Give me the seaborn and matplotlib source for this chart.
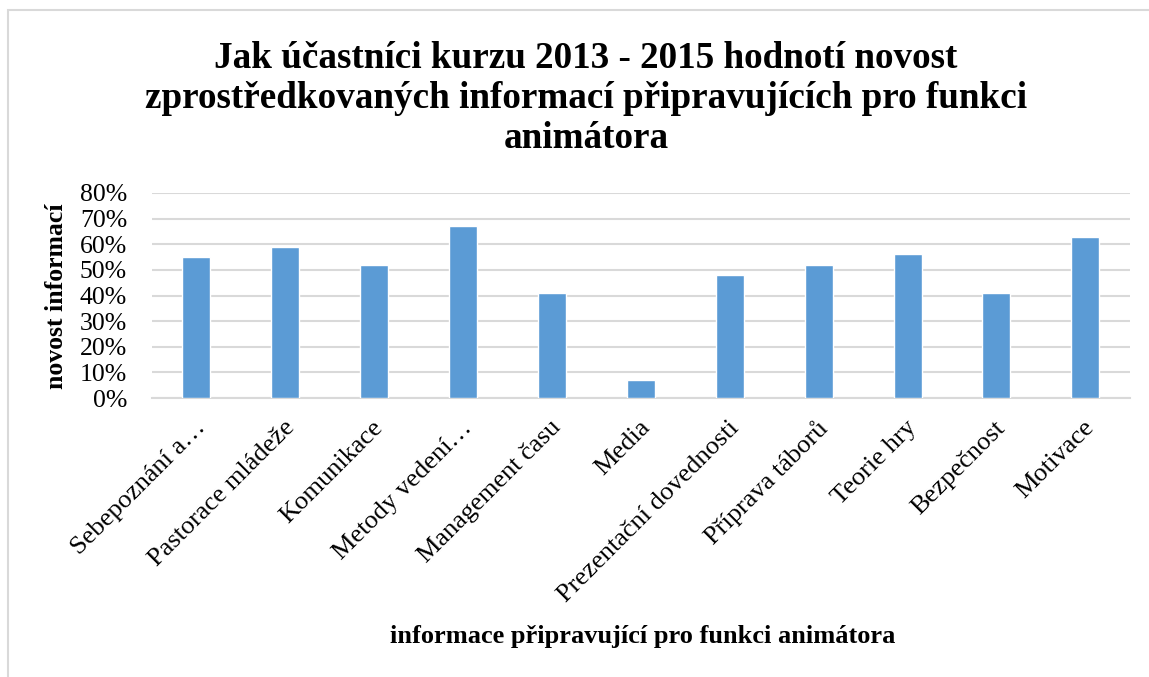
import matplotlib
matplotlib.use("Agg")
import matplotlib.pyplot as plt
import matplotlib.patches as patches
import matplotlib.transforms as mtransforms
from matplotlib.ticker import PercentFormatter
import pandas as pd
import seaborn as sns

# chart data
categories = ["Sebepoznání a…", "Pastorace mládeže", "Komunikace", "Metody vedení…",
              "Management času", "Media", "Prezentační dovednosti", "Příprava táborů",
              "Teorie hry", "Bezpečnost", "Motivace"]
values = [0.55, 0.59, 0.52, 0.67, 0.41, 0.07, 0.48, 0.52, 0.56, 0.41, 0.63]
y_ticks = [0.0, 0.1, 0.2, 0.3, 0.4, 0.5, 0.6, 0.7, 0.8]

title = ("Jak účastníci kurzu 2013 - 2015 hodnotí novost\n"
         "zprostředkovaných informací připravujících pro funkci\n"
         "animátora")

sns.set_style("white")
plt.rcParams["font.family"] = ["Liberation Serif", "DejaVu Serif"]
for key in ["text.color", "axes.labelcolor", "xtick.color", "ytick.color"]:
    plt.rcParams[key] = "black"

df = pd.DataFrame({"kat": categories, "hodnota": values})

fig = plt.figure(figsize=(11.49, 6.77), dpi=100)
ax = fig.add_axes([0.1323, 0.412, 0.851, 0.303])

sns.barplot(data=df, x="kat", y="hodnota", color="#5B9BD5", saturation=1,
            width=0.315, ax=ax, zorder=3)

ax.set_ylim(0, 0.8)
ax.set_xlim(-0.5, len(categories) - 0.5)
ax.set_yticks(y_ticks)
ax.yaxis.set_major_formatter(PercentFormatter(1.0, decimals=0))
ax.grid(axis="y", color="#d9d9d9", linewidth=1.5, zorder=0)
for s in ["top", "right", "left"]:
    ax.spines[s].set_visible(False)
ax.spines["bottom"].set_color("#d9d9d9")
ax.spines["bottom"].set_linewidth(1.5)
ax.tick_params(axis="y", length=0, labelsize=18.5, pad=18)
ax.tick_params(axis="x", length=0, labelsize=19, pad=19)

# rotated category labels, right end sitting just under each bar
shift = mtransforms.ScaledTranslation(4 / 72, 0, fig.dpi_scale_trans)
for lab in ax.get_xticklabels():
    lab.set_rotation(45)
    lab.set_ha("right")
    lab.set_va("center")
    lab.set_rotation_mode("anchor")
    lab.set_transform(lab.get_transform() + shift)

ax.set_xlabel("")
ax.set_ylabel("")
fig.text(57 / 1149, 1 - 296 / 677, "novost informací", rotation=90,
         ha="center", va="center", fontsize=18.5, fontweight="bold")
fig.text(643 / 1149, 1 - 636 / 677, "informace připravující pro funkci animátora",
         ha="center", va="center", fontsize=19, fontweight="bold")

fig.text(586 / 1149, 1 - 98.5 / 677, title, ha="center", va="center", fontsize=26.7,
         fontweight="bold", linespacing=1.18)

# light frame around the chart area
fig.patches.append(patches.Rectangle((8 / 1149, -0.1), 1.2, 1.1 - 10 / 677,
                                     transform=fig.transFigure, fill=False,
                                     edgecolor="#d9d9d9", linewidth=1.5))

fig.savefig("out.png", dpi=100)
